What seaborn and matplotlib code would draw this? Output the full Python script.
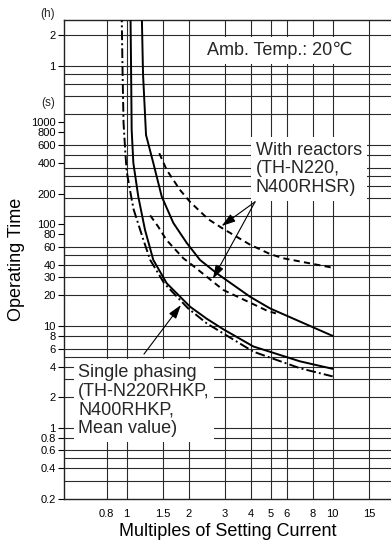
import numpy as np
import pandas as pd
import matplotlib
matplotlib.use("Agg")
import matplotlib.pyplot as plt
import seaborn as sns

# ---------------- data ----------------
x_ticks = [0.8, 1, 1.5, 2, 3, 4, 5, 6, 8, 10, 15]
x_tick_labels = ["0.8", "1", "1.5", "2", "3", "4", "5", "6", "8", "10", "15"]
y_ticks = [0.2, 0.4, 0.6, 0.8, 1, 2, 4, 6, 8, 10, 20, 30, 40, 60, 80, 100,
           200, 400, 600, 800, 1000, 3600, 7200]
y_tick_labels = ["0.2", "0.4", "0.6", "0.8", "1", "2", "4", "6", "8", "10", "20",
                 "30", "40", "60", "80", "100", "200", "400", "600", "800", "1000",
                 "1", "2"]
y_grid = [0.3, 0.4, 0.5, 0.6, 0.8, 1, 2, 3, 4, 5, 6, 8, 10, 20, 30, 40, 50, 60,
          120, 180, 240, 300, 360, 480, 600, 1200, 1800, 2400, 3000, 3600, 7200]
x_grid = [0.8, 1, 1.5, 2, 3, 4, 5, 6, 8, 10, 15]

# single phasing, dash-dot curve
sp_dashdot_x = [0.945, 0.955, 0.965, 0.985, 1.0, 1.04, 1.08, 1.2, 1.3, 1.52, 1.98, 2.45, 4.12, 6.94, 10]
sp_dashdot_y = [12000, 3000, 1000, 500, 330, 210, 140, 72, 44.6, 26.3, 15, 10.6, 5.6, 3.85, 3.2]
# single phasing, solid curve
sp_solid_x = [1.043, 1.049, 1.057, 1.077, 1.138, 1.227, 1.346, 1.564, 2.029, 2.446, 2.944, 4.118, 6.94, 10]
sp_solid_y = [12000, 4100, 843, 400, 187, 88, 44.6, 26.3, 15.5, 11.8, 9.3, 6.3, 4.5, 3.8]
# upper solid curve
up_solid_x = [1.183, 1.20, 1.241, 1.346, 1.479, 1.684, 1.956, 2.269, 2.735, 3.97, 4.964, 10]
up_solid_y = [12000, 3000, 753, 400, 187, 103, 65.5, 44.6, 33, 19.4, 14.9, 8.0]
# with reactors, lower dashed
rx_low_x = [1.30, 1.42, 1.56, 1.883, 2.029, 2.944, 4.782, 5.3]
rx_low_y = [122, 95, 70, 46.3, 41.3, 22.6, 14.2, 13.3]
# with reactors, upper dashed
rx_up_x = [1.439, 1.564, 1.815, 2.029, 2.489, 2.944, 3.55, 3.97, 4.96, 5.76, 10]
rx_up_y = [498, 341, 217, 166, 112, 90, 72, 63, 51, 46.3, 37.4]

curve_names = ["sp_dashdot", "sp_solid", "up_solid", "rx_low", "rx_up"]
curve_x = [sp_dashdot_x, sp_solid_x, up_solid_x, rx_low_x, rx_up_x]
curve_y = [sp_dashdot_y, sp_solid_y, up_solid_y, rx_low_y, rx_up_y]

# annotation arrows (start -> tip, data coords)
reactor_arrow_start = (4.2, 166)
reactor_arrow_tips = [(2.89, 96), (2.62, 29)]
single_arrow_start = (1.213, 5.3)
single_arrow_tip = (1.834, 16.1)

# ---------------- figure ----------------
sns.set_theme(style="white")
plt.rcParams['font.family'] = ['Liberation Sans', 'DejaVu Sans']

W, H = 391, 544
fig = plt.figure(figsize=(W / 100, H / 100), dpi=100)
L, R, T, B = 64, 391, 20, 499
ax = fig.add_axes([L / W, 1 - B / H, (R - L) / W, (B - T) / H])
ax.set_xscale('log')
ax.set_yscale('log')

frames = []
for n, xs, ys in zip(curve_names, curve_x, curve_y):
    frames.append(pd.DataFrame({"x": xs, "y": ys, "curve": n}))
df = pd.concat(frames, ignore_index=True)

dashes = {"sp_dashdot": (5, 1.6, 1, 1.6), "sp_solid": "", "up_solid": "",
          "rx_low": (3.2, 2.2), "rx_up": (3.2, 2.2)}
sns.lineplot(data=df, x="x", y="y", style="curve", dashes=dashes, units="curve",
             estimator=None, sort=False, color="black", linewidth=1.4,
             legend=False, ax=ax, zorder=3)

ax.set_xlim(0.496, 19.2)
ax.set_ylim(0.2, 10140)

grid_kw = dict(color="#2a2a2a", linewidth=0.8, zorder=1)
for v in y_grid:
    ax.axhline(v, **grid_kw)
for v in x_grid:
    ax.axvline(v, **grid_kw)

ax.set_xticks(x_ticks)
ax.set_xticklabels(x_tick_labels)
ax.xaxis.set_minor_locator(matplotlib.ticker.NullLocator())
ax.set_yticks(y_ticks)
ax.set_yticklabels(y_tick_labels)
ax.yaxis.set_minor_locator(matplotlib.ticker.NullLocator())
ax.tick_params(axis='x', length=0, pad=7, labelsize=8, colors="black")
ax.tick_params(axis='y', left=True, length=4.5, width=0.8, pad=1.5,
               labelsize=8, colors="black", direction='out')

for s in ["left", "bottom", "top"]:
    ax.spines[s].set_visible(True)
    ax.spines[s].set_color("#222222")
    ax.spines[s].set_linewidth(1.0)
ax.spines["right"].set_visible(False)

ax.set_xlabel("Multiples of Setting Current", fontsize=13, labelpad=3, color="black")
ax.set_ylabel("Operating Time", fontsize=13, labelpad=4, color="black")

fig.text(48 / W, 1 - 14 / H, "(h)", ha="center", va="center", fontsize=8.5)
fig.text(48 / W, 1 - 103 / H, "(s)", ha="center", va="center", fontsize=8.5)

box = dict(boxstyle="square,pad=0.25", facecolor="white", edgecolor="none")
ax.text(0.436, 0.936, "Amb. Temp.: 20℃", transform=ax.transAxes, ha="left",
        va="center", fontsize=13, bbox=box, zorder=5)
ax.text(0.587, 0.689, "With reactors\n(TH-N220,\nN400RHSR)", transform=ax.transAxes,
        ha="left", va="center", fontsize=13, bbox=box, zorder=5, linespacing=1.15)
ax.text(0.043, 0.2056, "Single phasing\n(TH-N220RHKP,\nN400RHKP,\nMean value)",
        transform=ax.transAxes, ha="left", va="center", fontsize=13, bbox=box,
        zorder=5, linespacing=1.15)

arrow_kw = dict(arrowstyle="-|>,head_length=0.7,head_width=0.22", color="black",
                lw=0.8, shrinkA=0, shrinkB=0)
for tip in reactor_arrow_tips:
    ax.annotate("", xy=tip, xytext=reactor_arrow_start, arrowprops=arrow_kw, zorder=6)
ax.annotate("", xy=single_arrow_tip, xytext=single_arrow_start, arrowprops=arrow_kw, zorder=6)

fig.savefig("out.png", dpi=100)
